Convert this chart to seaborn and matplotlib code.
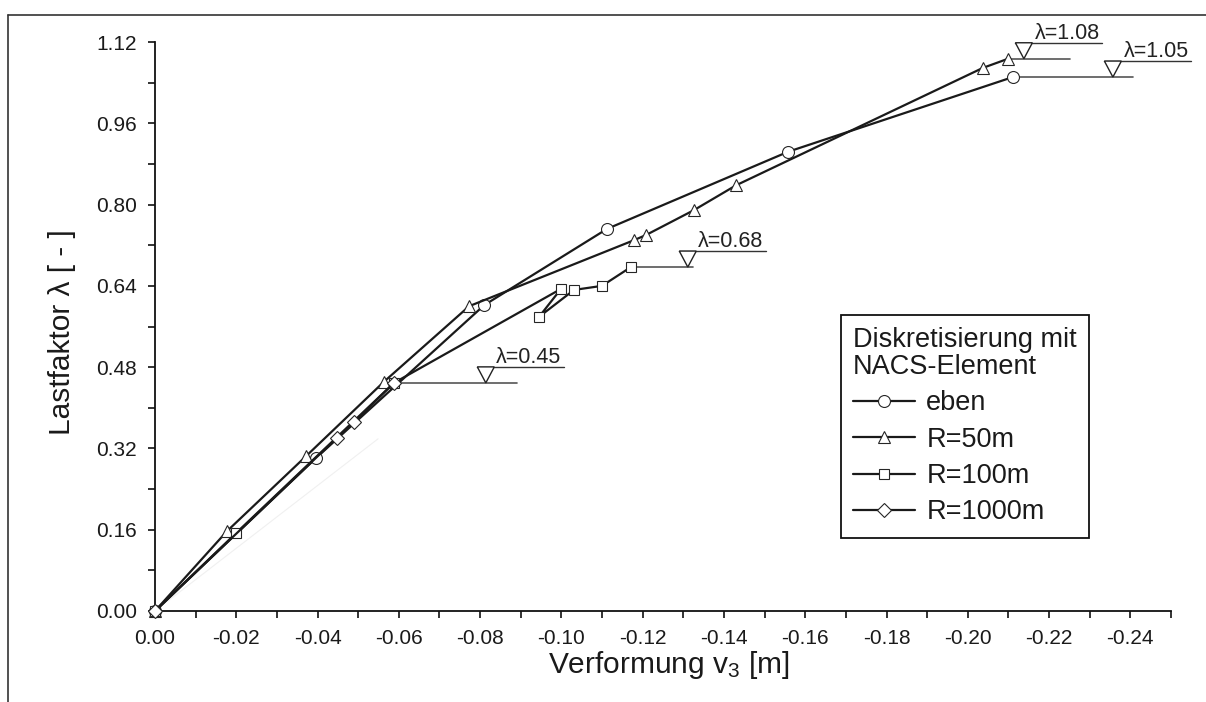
import matplotlib
matplotlib.use("Agg")
import matplotlib.pyplot as plt
import seaborn as sns
import numpy as np
from matplotlib.lines import Line2D
from matplotlib.transforms import IdentityTransform
from matplotlib.ticker import FixedLocator

# ---------------- data ----------------
eben_x = [0.0, -0.0396, -0.0810, -0.1112, -0.1558, -0.2111]
eben_y = [0.0, 0.301, 0.602, 0.752, 0.904, 1.051]

r50_x = [0.0, -0.0177, -0.0372, -0.0563, -0.0773, -0.1179, -0.1208, -0.1326, -0.1430, -0.2037, -0.2099]
r50_y = [0.0, 0.157, 0.305, 0.451, 0.600, 0.730, 0.740, 0.789, 0.838, 1.069, 1.087]

r100_x = [0.0, -0.0199, -0.0588, -0.0999, -0.0945, -0.1031, -0.1100, -0.1171]
r100_y = [0.0, 0.153, 0.449, 0.634, 0.579, 0.632, 0.640, 0.677]

r1000_x = [0.0, -0.0448, -0.0490, -0.0588]
r1000_y = [0.0, 0.341, 0.372, 0.449]

# faint reference line near the origin
faint_x = [0.0, -0.0549]
faint_y = [0.0, 0.339]

series_labels = ["eben", "R=50m", "R=100m", "R=1000m"]
legend_title = "Diskretisierung mit\nNACS-Element"

x_ticks = [0.0, -0.02, -0.04, -0.06, -0.08, -0.10, -0.12, -0.14, -0.16, -0.18, -0.20, -0.22, -0.24]
x_tick_labels = ["0.00", "-0.02", "-0.04", "-0.06", "-0.08", "-0.10", "-0.12", "-0.14",
                 "-0.16", "-0.18", "-0.20", "-0.22", "-0.24"]
y_ticks = [0.0, 0.16, 0.32, 0.48, 0.64, 0.80, 0.96, 1.12]
y_tick_labels = ["0.00", "0.16", "0.32", "0.48", "0.64", "0.80", "0.96", "1.12"]

# load-level annotations: (series index, label, end of level line, triangle x)
ann_series = [1, 0, 2, 3]
ann_text = ["λ=1.08", "λ=1.05", "λ=0.68", "λ=0.45"]
ann_line_end_x = [-0.2251, -0.2407, -0.1324, -0.0891]
ann_tri_x = [-0.2138, -0.2357, -0.1311, -0.0814]

# ---------------- style ----------------
sns.set_style("ticks")
plt.rcParams["font.family"] = ["Liberation Sans", "DejaVu Sans"]
plt.rcParams["mathtext.default"] = "regular"

W, H = 1206, 702
fig = plt.figure(figsize=(W / 100, H / 100), dpi=100)
ax = fig.add_axes([155 / W, 1 - 611 / H, 1016 / W, 569 / H])

line_col = "#1a1a1a"
edge_col = "#262626"

ax.plot(faint_x, faint_y, color="#f0f0f0", lw=0.8, zorder=1)

all_x = [eben_x, r50_x, r100_x, r1000_x]
all_y = [eben_y, r50_y, r100_y, r1000_y]
markers = ["o", "^", "s", "D"]
msizes = [8.6, 9.2, 7.4, 6.8]

for xs, ys, lab, m, ms in zip(all_x, all_y, series_labels, markers, msizes):
    sns.lineplot(x=xs, y=ys, sort=False, estimator=None, ax=ax,
                 color=line_col, linewidth=1.6, marker=m, markersize=ms,
                 markerfacecolor="white", markeredgecolor=edge_col,
                 markeredgewidth=0.8, label=lab, clip_on=False, zorder=3)

ax.set_xlim(0, -0.25)
ax.set_ylim(0, 1.12)

for s in ["top", "right"]:
    ax.spines[s].set_visible(False)
for s in ["left", "bottom"]:
    ax.spines[s].set_linewidth(1.3)
    ax.spines[s].set_color("#111111")

ax.xaxis.set_major_locator(FixedLocator(x_ticks))
ax.set_xticklabels(x_tick_labels)
ax.xaxis.set_minor_locator(FixedLocator([-0.01, -0.03, -0.05, -0.07, -0.09, -0.11, -0.13,
                                          -0.15, -0.17, -0.19, -0.21, -0.23, -0.25]))
ax.yaxis.set_major_locator(FixedLocator(y_ticks))
ax.set_yticklabels(y_tick_labels)
ax.yaxis.set_minor_locator(FixedLocator([0.08, 0.24, 0.40, 0.56, 0.72, 0.88, 1.04]))

ax.tick_params(which="both", direction="out", length=5.2, width=1.2, color="#111111")
ax.tick_params(axis="x", which="major", labelsize=15, pad=8, labelcolor="#1a1a1a")
ax.tick_params(axis="y", which="major", labelsize=15, pad=8, labelcolor="#1a1a1a")

ax.set_xlabel("Verformung v$_3$ [m]", fontsize=21.5, color="#1a1a1a")
ax.set_ylabel("Lastfaktor λ [ - ]", fontsize=21.5, color="#1a1a1a")
ax.xaxis.set_label_coords(0.506, -0.066)
ax.yaxis.set_label_coords(-0.078, 0.49)

handles, labels = ax.get_legend_handles_labels()
leg = ax.legend(handles, labels, title=legend_title, loc="upper left",
                bbox_to_anchor=((841 - 155) / 1016, (611 - 315) / 569),
                borderaxespad=0, frameon=True, fancybox=False, framealpha=1,
                edgecolor="#111111", fontsize=19.5, title_fontsize=19.5,
                alignment="left", handlelength=2.3, handletextpad=0.4,
                labelspacing=0.38, borderpad=0.45)
leg.get_frame().set_linewidth(1.3)
leg.get_title().set_color("#1a1a1a")
leg.get_title().set_linespacing(1.05)
for t in leg.get_texts():
    t.set_color("#1a1a1a")

# ---------------- load level annotations ----------------
fig.canvas.draw()
ident = IdentityTransform()
tri_w, tri_h = 17.0, 16.0
under_len = 70.0
for si, txt, xe, xt in zip(ann_series, ann_text, ann_line_end_x, ann_tri_x):
    x0, y0 = all_x[si][-1], all_y[si][-1]
    ax.plot([x0, xe], [y0, y0], color="#555555", lw=1.2, zorder=2, clip_on=False)
    px, py = ax.transData.transform((xt, y0))
    tri = plt.Polygon([[px, py], [px - tri_w / 2, py + tri_h], [px + tri_w / 2, py + tri_h]],
                      closed=True, facecolor="white", edgecolor="#222222", lw=1.0,
                      transform=ident, zorder=4)
    fig.add_artist(tri)
    ul = Line2D([px - tri_w / 2, px + tri_w / 2 + under_len], [py + tri_h, py + tri_h],
                color="#333333", lw=1.0, transform=ident)
    fig.add_artist(ul)
    fig.text(px + tri_w / 2 + 2, py + tri_h + 4, txt, transform=ident,
             fontsize=15.5, color="#222222", ha="left", va="baseline")

# ---------------- figure frame (top and left edge) ----------------
fig.add_artist(Line2D([8 / W, 8 / W], [0, 1 - 15 / H], color="#333333", lw=1.2,
                      transform=fig.transFigure))
fig.add_artist(Line2D([8 / W, 1], [1 - 15 / H, 1 - 15 / H], color="#333333", lw=1.2,
                      transform=fig.transFigure))

fig.savefig("out.png", dpi=100)
